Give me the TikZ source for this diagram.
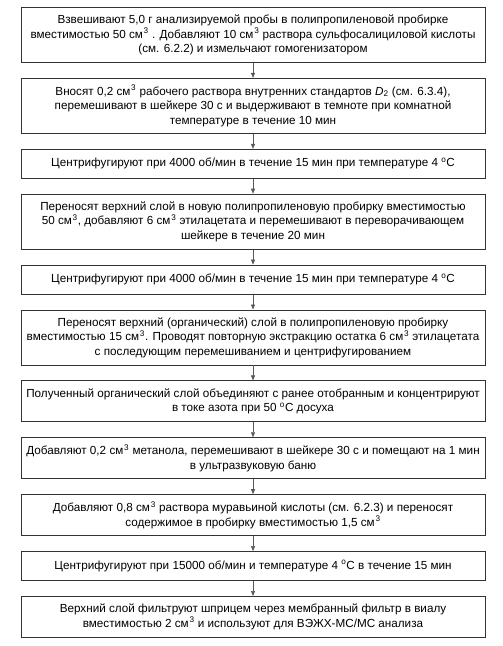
\documentclass[tikz,border=0pt]{standalone}
\usepackage{fontspec}
\setmainfont{Liberation Sans}
\usetikzlibrary{positioning,arrows.meta}
\newcommand{\cmc}{см\kern0.8pt\textsuperscript{3}}
\newcommand{\degC}{\textsuperscript{o}C}
\tikzset{
stepbox/.style={draw=black!80,line width=0.9pt,minimum width=464pt,inner sep=2pt,align=center,
font=\fontsize{11.7}{14.5}\selectfont},
oneline/.style={stepbox,minimum height=29pt},
twoline/.style={stepbox,minimum height=41pt},
threeline/.style={stepbox,minimum height=55pt},
flowarrow/.style={-{Triangle[length=5pt,width=4pt]},black!65,line width=0.6pt}
}
\begin{document}
\begin{tikzpicture}[node distance=15pt]
\useasboundingbox (0,0) rectangle (503pt,-646pt);
\node[threeline,anchor=north] (weigh) at (253pt,-7pt)
{Взвешивают 5,0 г анализируемой пробы в полипропиленовой пробирке\\
вместимостью 50 \cmc{} . Добавляют 10 \cmc{} раствора сульфосалициловой кислоты\\
(см. 6.2.2) и измельчают гомогенизатором};
\node[threeline,below=of weigh] (addstd)
{Вносят 0,2 \cmc{} рабочего раствора внутренних стандартов \textit{D}\textsubscript{2} (см. 6.3.4),\\
перемешивают в шейкере 30 с и выдерживают в темноте при комнатной\\
температуре в течение 10 мин};
\node[oneline,below=of addstd] (cent1)
{Центрифугируют при 4000 об/мин в течение 15 мин при температуре 4 \degC};
\node[threeline,below=of cent1] (transfer)
{Переносят верхний слой в новую полипропиленовую пробирку вместимостью\\
50 \cmc, добавляют 6 \cmc{} этилацетата и перемешивают в переворачивающем\\
шейкере в течение 20 мин};
\node[oneline,below=of transfer] (cent2)
{Центрифугируют при 4000 об/мин в течение 15 мин при температуре 4 \degC};
\node[threeline,below=of cent2] (reextract)
{Переносят верхний (органический) слой в полипропиленовую пробирку\\
вместимостью 15 \cmc. Проводят повторную экстракцию остатка 6 \cmc{} этилацетата\\
с последующим перемешиванием и центрифугированием};
\node[twoline,below=of reextract] (dry)
{Полученный органический слой объединяют с ранее отобранным и концентрируют\\
в токе азота при 50 \degC{} досуха};
\node[twoline,below=of dry] (methanol)
{Добавляют 0,2 \cmc{} метанола, перемешивают в шейкере 30 с и помещают на 1 мин\\
в ультразвуковую баню};
\node[twoline,below=of methanol] (acid)
{Добавляют 0,8 \cmc{} раствора муравьиной кислоты (см. 6.2.3) и переносят\\
содержимое в пробирку вместимостью 1,5 \cmc};
\node[oneline,below=of acid] (cent3)
{Центрифугируют при 15000 об/мин и температуре 4 \degC{} в течение 15 мин};
\node[twoline,below=of cent3] (filter)
{Верхний слой фильтруют шприцем через мембранный фильтр в виалу\\
вместимостью 2 \cmc{} и используют для ВЭЖХ-МС/МС анализа};
\foreach \a/\b in {weigh/addstd,addstd/cent1,cent1/transfer,transfer/cent2,cent2/reextract,
reextract/dry,dry/methanol,methanol/acid,acid/cent3,cent3/filter}
  \draw[flowarrow] (\a) -- (\b);
\end{tikzpicture}
\end{document}
